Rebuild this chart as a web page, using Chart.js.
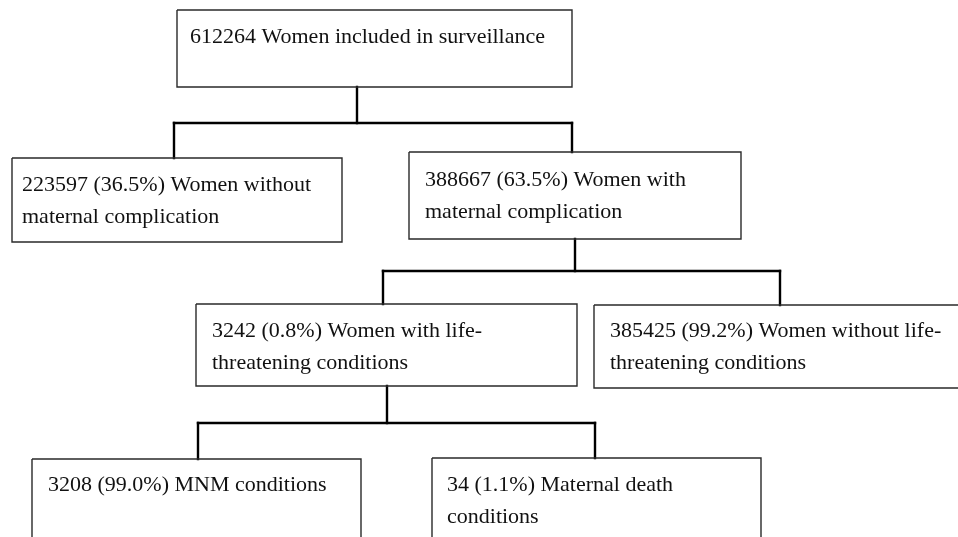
<!DOCTYPE html>
<html lang="en">
<head>
    <meta charset="UTF-8">
    <script src="https://cdn.jsdelivr.net/npm/chart.js@4"></script>
    <title>Surveillance flow chart</title>
    <style>
        body { margin: 0; background: #fff; }
        canvas { display: block; }
    </style>
</head>
<body>
    <canvas id="myChart" width="958" height="537"></canvas>
    <script>
    // node data: counts, share of parent (%), text after the numbers
    var nodeCounts = [612264, 223597, 388667, 3242, 385425, 3208, 34];
    var nodePercents = [null, 36.5, 63.5, 0.8, 99.2, 99.0, 1.1];
    var nodeText = [
        ['Women included in surveillance'],
        ['Women without', 'maternal complication'],
        ['Women with', 'maternal complication'],
        ['Women with life-', 'threatening conditions'],
        ['Women without life-', 'threatening conditions'],
        ['MNM conditions'],
        ['Maternal death', 'conditions']
    ];
    // parent -> children
    var links = [[0, [1, 2]], [2, [3, 4]], [3, [5, 6]]];

    // layout (in plot units, the scale runs 0..958 by 0..537, y down)
    var boxLeft   = [177, 12, 409, 196, 594, 32, 432];
    var boxRight  = [572, 342, 741, 577, 975, 361, 761];
    var boxTop    = [10, 158, 152, 304, 305, 459, 458];
    var boxBottom = [87, 242, 239, 386, 388, 570, 570];
    var textLeft  = [190, 22, 425, 212, 610, 48, 447];
    var textTop   = [37, 185, 180, 331, 331, 485, 485];
    var lineGap = 32;
    var stemX = [357, 575, 387];
    var busY  = [123, 271, 423];
    var dropX = [[174, 572], [383, 780], [198, 595]];

    function label(i) {
        var first = nodeCounts[i] + ' ';
        if (nodePercents[i] !== null) first += '(' + nodePercents[i].toFixed(1) + '%) ';
        var lines = nodeText[i].slice();
        lines[0] = first + lines[0];
        return lines;
    }

    var datasets = [];
    for (var i = 0; i < nodeCounts.length; i++) {
        datasets.push({
            data: [
                {x: boxLeft[i], y: boxTop[i]}, {x: boxRight[i], y: boxTop[i]},
                {x: boxRight[i], y: boxBottom[i]}, {x: boxLeft[i], y: boxBottom[i]},
                {x: boxLeft[i], y: boxTop[i]}
            ],
            borderColor: '#2a2a2a',
            borderWidth: 1.4
        });
    }
    links.forEach(function (lk, k) {
        var p = lk[0];
        var kids = lk[1];
        var segs = [
            [{x: stemX[k], y: boxBottom[p]}, {x: stemX[k], y: busY[k]}],
            [{x: dropX[k][0], y: busY[k]}, {x: dropX[k][1], y: busY[k]}]
        ];
        kids.forEach(function (c, j) {
            segs.push([{x: dropX[k][j], y: busY[k]}, {x: dropX[k][j], y: boxTop[c]}]);
        });
        segs.forEach(function (s) {
            datasets.push({ data: s, borderColor: '#000', borderWidth: 2.4, borderCapStyle: 'square' });
        });
    });

    var textPlugin = {
        id: 'nodeText',
        afterDatasetsDraw: function (chart) {
            var ctx = chart.ctx;
            var xs = chart.scales.x, ys = chart.scales.y;
            ctx.save();
            ctx.font = '22px "Liberation Serif", "Times New Roman", serif';
            ctx.fillStyle = '#111';
            ctx.textAlign = 'left';
            ctx.textBaseline = 'middle';
            for (var i = 0; i < nodeCounts.length; i++) {
                label(i).forEach(function (t, j) {
                    ctx.fillText(t, xs.getPixelForValue(textLeft[i]), ys.getPixelForValue(textTop[i] + j * lineGap));
                });
            }
            ctx.restore();
        }
    };

    new Chart(document.getElementById('myChart'), {
        type: 'scatter',
        data: { datasets: datasets },
        options: {
            responsive: false,
            animation: false,
            showLine: true,
            layout: { padding: 0 },
            elements: { point: { radius: 0, hoverRadius: 0 }, line: { tension: 0 } },
            scales: {
                x: { type: 'linear', min: 0, max: 958, display: false },
                y: { type: 'linear', min: 0, max: 537, reverse: true, display: false }
            },
            plugins: { legend: { display: false }, tooltip: { enabled: false } }
        },
        plugins: [textPlugin]
    });
    </script>
</body>
</html>
